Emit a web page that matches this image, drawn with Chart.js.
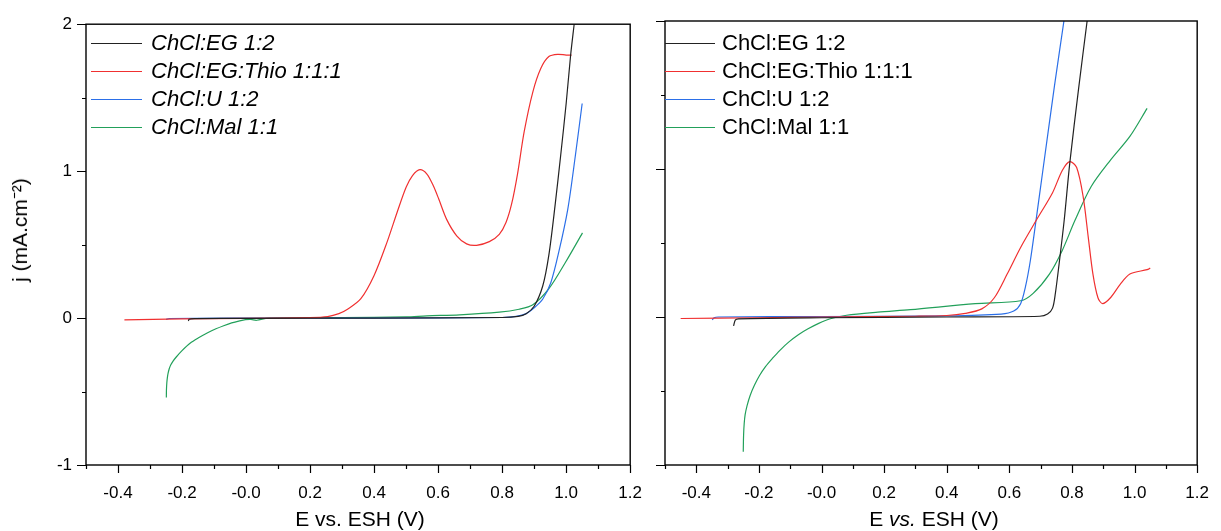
<!DOCTYPE html>
<html>
<head>
<meta charset="utf-8">
<script src="https://cdn.jsdelivr.net/npm/chart.js@4/dist/chart.umd.min.js"></script>
<style>
  body { margin: 0; background: #fff; }
  #wrap { position: relative; width: 1221px; height: 531px; overflow: hidden; font-family: "Liberation Sans", Arial, sans-serif; color: #000; }
  canvas { position: absolute; top: 0; }
  .lg-line { position: absolute; height: 1px; }
  .lg-text { position: absolute; font-size: 22px; line-height: 22px; white-space: nowrap; }
  .xtitle { position: absolute; top: 508px; font-size: 21px; line-height: 22px; white-space: nowrap; transform: translateX(-50%); }
  .ytitle { position: absolute; font-size: 21px; line-height: 22px; white-space: nowrap; transform: translate(-50%, -50%) rotate(-90deg); }
</style>
</head>
<body>
<div id="wrap">
  <canvas id="left" width="660" height="531" style="left:0px"></canvas>
  <canvas id="right" width="580" height="531" style="left:647px"></canvas>
  <div class="ytitle" style="left:20px; top:230px">j (mA.cm⁻²)</div>
  <div class="xtitle" style="left:360px">E vs. ESH (V)</div>
  <div class="xtitle" style="left:934px">E <i>vs.</i> ESH (V)</div>
</div>
<script>
// Series names and colours (same order in both panels)
var names = ["ChCl:EG 1:2", "ChCl:EG:Thio 1:1:1", "ChCl:U 1:2", "ChCl:Mal 1:1"];
var colors = ["#222222", "#f03030", "#2b6fe8", "#22a05a"];

// Left panel, [E (V), j (mA.cm-2)]
var leftEG = [[-0.18,-0.02],[-0.178,-0.008],[-0.16,-0.004],[0.0,-0.002],[0.4,0.0],[0.8,0.004],[0.85,0.012],[0.875,0.03],[0.90,0.08],[0.927,0.22],[0.946,0.43],[0.965,0.76],[0.983,1.11],[1.0,1.46],[1.014,1.79],[1.025,2.0]];
var leftThio = [[-0.38,-0.012],[-0.2,-0.006],[0.0,-0.002],[0.2,0.003],[0.255,0.01],[0.29,0.03],[0.317,0.06],[0.358,0.13],[0.40,0.29],[0.441,0.52],[0.472,0.72],[0.50,0.89],[0.52,0.97],[0.543,1.01],[0.565,0.98],[0.585,0.90],[0.602,0.81],[0.627,0.67],[0.658,0.56],[0.689,0.505],[0.72,0.495],[0.76,0.52],[0.791,0.57],[0.812,0.65],[0.830,0.78],[0.848,0.98],[0.869,1.27],[0.896,1.54],[0.921,1.70],[0.946,1.78],[0.974,1.795],[1.0,1.79],[1.017,1.79]];
var leftU = [[-0.25,-0.01],[-0.24,-0.003],[0.0,0.0],[0.4,0.0],[0.8,0.004],[0.844,0.012],[0.875,0.03],[0.90,0.07],[0.927,0.13],[0.952,0.24],[0.977,0.45],[1.005,0.74],[1.029,1.11],[1.05,1.46]];
var leftMal = [[-0.249,-0.54],[-0.2487,-0.49],[-0.2475,-0.44],[-0.2458,-0.405],[-0.2435,-0.375],[-0.24,-0.345],[-0.235,-0.318],[-0.228,-0.293],[-0.218,-0.265],[-0.20,-0.222],[-0.175,-0.172],[-0.147,-0.133],[-0.12,-0.10],[-0.094,-0.073],[-0.07,-0.052],[-0.045,-0.033],[-0.02,-0.019],[-0.002,-0.011],[0.015,-0.009],[0.033,-0.015],[0.07,0.0],[0.3,0.003],[0.5,0.008],[0.565,0.015],[0.667,0.022],[0.791,0.04],[0.853,0.06],[0.896,0.09],[0.946,0.20],[0.998,0.38],[1.051,0.58]];

// Right panel
var rightEG = [[-0.281,-0.06],[-0.275,-0.02],[-0.265,-0.012],[0.0,-0.005],[0.4,0.0],[0.697,0.005],[0.722,0.02],[0.738,0.06],[0.747,0.16],[0.759,0.36],[0.775,0.65],[0.793,1.04],[0.821,1.54],[0.849,2.01]];
var rightThio = [[-0.45,-0.01],[-0.2,-0.005],[0.0,0.0],[0.3,0.005],[0.4,0.01],[0.46,0.025],[0.512,0.055],[0.552,0.13],[0.593,0.29],[0.636,0.47],[0.685,0.65],[0.738,0.84],[0.769,0.99],[0.793,1.05],[0.815,1.01],[0.836,0.81],[0.852,0.54],[0.867,0.29],[0.883,0.13],[0.898,0.09],[0.923,0.13],[0.954,0.22],[0.985,0.29],[1.04,0.32],[1.05,0.33]];
var rightU = [[-0.349,-0.02],[-0.343,-0.005],[-0.33,0.0],[0.0,0.003],[0.4,0.008],[0.574,0.02],[0.614,0.04],[0.636,0.09],[0.651,0.20],[0.667,0.38],[0.685,0.65],[0.707,0.99],[0.744,1.56],[0.775,2.01]];
var rightMal = [[-0.25,-0.91],[-0.249,-0.80],[-0.247,-0.72],[-0.244,-0.66],[-0.238,-0.60],[-0.228,-0.53],[-0.214,-0.46],[-0.198,-0.395],[-0.179,-0.335],[-0.157,-0.28],[-0.133,-0.225],[-0.105,-0.17],[-0.074,-0.12],[-0.043,-0.08],[-0.009,-0.043],[0.028,-0.012],[0.08,0.012],[0.18,0.033],[0.284,0.05],[0.491,0.09],[0.636,0.11],[0.676,0.16],[0.728,0.29],[0.769,0.45],[0.809,0.65],[0.861,0.88],[0.923,1.06],[0.985,1.22],[1.04,1.41]];

// Axis ranges
var xMin = -0.5, xMax = 1.2, xStep = 0.1;
var yMin = -1, yMax = 2, yStep = 0.5;

var font = "'Liberation Sans', Arial, sans-serif";

// Draws the frame and outward major/minor tick marks
var frameTicks = {
  id: "frameTicks",
  afterDraw: function (chart) {
    var ctx = chart.ctx;
    var a = chart.chartArea;
    ctx.save();
    ctx.strokeStyle = "#000";
    ctx.lineWidth = 1.4;
    ctx.strokeRect(a.left, a.top, a.right - a.left, a.bottom - a.top);
    ctx.lineWidth = 1.2;
    ctx.beginPath();
    chart.scales.x.ticks.forEach(function (t) {
      var px = Math.round(chart.scales.x.getPixelForValue(t.value)) + 0.5;
      var major = Math.abs(Math.round(t.value * 10)) % 2 === 0;
      ctx.moveTo(px, a.bottom);
      ctx.lineTo(px, a.bottom + (major ? 8 : 4));
    });
    chart.scales.y.ticks.forEach(function (t) {
      var py = Math.round(chart.scales.y.getPixelForValue(t.value)) + 0.5;
      var major = Math.abs(t.value - Math.round(t.value)) < 1e-6;
      ctx.moveTo(a.left - (major ? 9 : 4), py);
      ctx.lineTo(a.left, py);
    });
    ctx.stroke();
    ctx.restore();
  }
};

function makeSets(list) {
  return list.map(function (s, i) {
    return {
      label: names[i],
      data: s.map(function (p) { return { x: p[0], y: p[1] }; }),
      borderColor: colors[i],
      borderWidth: 1.2,
      pointRadius: 0,
      showLine: true,
      tension: 0.3
    };
  });
}

function makeChart(id, sets, yWidth, showY, padRight) {
  return new Chart(document.getElementById(id), {
    type: "scatter",
    data: { datasets: makeSets(sets) },
    plugins: [frameTicks],
    options: {
      responsive: false,
      animation: false,
      devicePixelRatio: 1,
      layout: { padding: { top: 21, right: padRight, left: 0, bottom: 0 } },
      plugins: { legend: { display: false }, tooltip: { enabled: false } },
      scales: {
        x: {
          type: "linear", min: xMin, max: xMax,
          grid: { display: false, drawTicks: false },
          border: { display: false },
          ticks: {
            stepSize: xStep, padding: 18, color: "#000", maxRotation: 0, autoSkip: false,
            font: { family: font, size: 17 },
            callback: function (v) { return Math.abs(Math.round(v * 10)) % 2 === 0 ? v.toFixed(1) : ""; }
          },
          afterFit: function (s) { s.height = 66; }
        },
        y: {
          type: "linear", min: yMin, max: yMax,
          grid: { display: false, drawTicks: false },
          border: { display: false },
          ticks: {
            display: showY, stepSize: yStep, padding: 14, color: "#000",
            font: { family: font, size: 17 },
            callback: function (v) { return Math.abs(v - Math.round(v)) < 1e-6 ? String(Math.round(v)) : ""; }
          },
          afterFit: function (s) { s.width = yWidth; }
        }
      }
    }
  });
}

makeChart("left", [leftEG, leftThio, leftU, leftMal], 86, true, 25);
makeChart("right", [rightEG, rightThio, rightU, rightMal], 12, false, 17);

// Legends inside each panel
function addLegend(lineX, lineW, textX, italic) {
  var wrap = document.getElementById("wrap");
  var rows = [43, 71, 99, 127];
  names.forEach(function (n, i) {
    var line = document.createElement("div");
    line.className = "lg-line";
    line.style.left = lineX + "px";
    line.style.width = lineW + "px";
    line.style.top = rows[i] + "px";
    line.style.background = colors[i];
    wrap.appendChild(line);
    var txt = document.createElement("div");
    txt.className = "lg-text";
    txt.style.left = textX + "px";
    txt.style.top = (rows[i] - 11) + "px";
    if (italic) txt.style.fontStyle = "italic";
    txt.textContent = n;
    wrap.appendChild(txt);
  });
}
addLegend(91, 51, 151, true);
addLegend(665, 50, 722, false);
</script>
</body>
</html>
